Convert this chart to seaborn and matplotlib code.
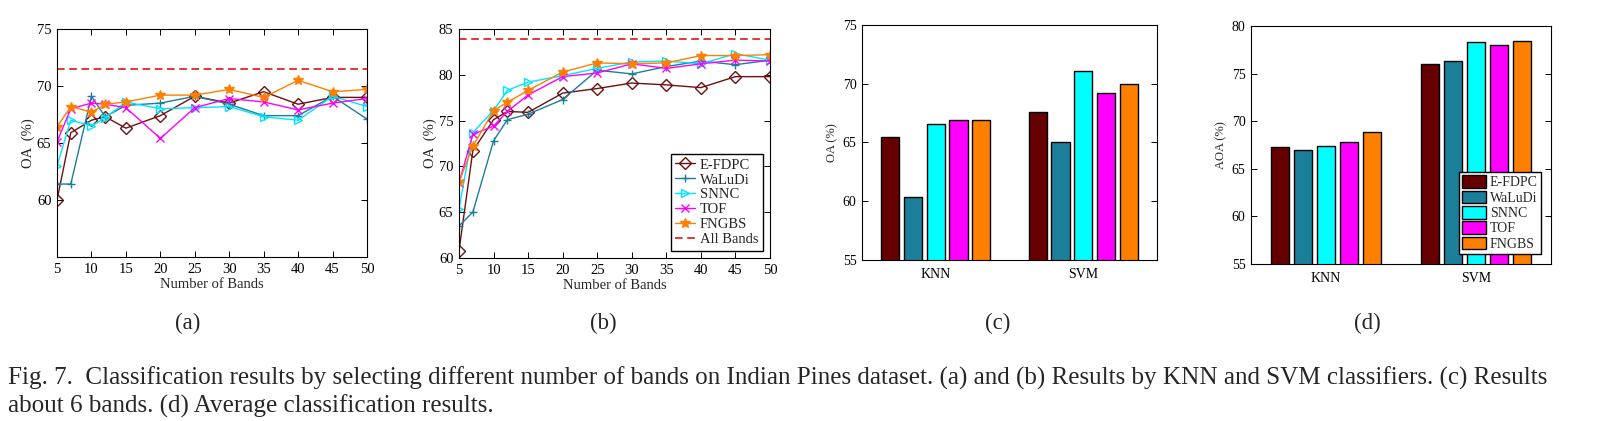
import numpy as np
import pandas as pd
import seaborn as sns
import matplotlib.pyplot as plt

# Number of selected bands (x axis of (a) and (b))
bands = [5, 7, 10, 12, 15, 20, 25, 30, 35, 40, 45, 50]
methods = ["E-FDPC", "WaLuDi", "SNNC", "TOF", "FNGBS"]

# (a) KNN, OA (%)
efdpc_knn = [60.0, 65.9, 67.0, 67.3, 66.3, 67.4, 69.1, 68.5, 69.5, 68.4, 69.0, 69.0]
waludi_knn = [61.4, 61.4, 69.1, 67.3, 68.3, 68.5, 69.1, 68.4, 67.4, 67.4, 69.1, 67.1]
snnc_knn = [63.0, 67.0, 66.5, 67.2, 68.6, 68.0, 68.1, 68.2, 67.3, 67.0, 69.1, 68.2]
tof_knn = [65.1, 68.0, 68.5, 68.4, 68.1, 65.4, 68.1, 68.9, 68.6, 67.9, 68.5, 68.9]
fngbs_knn = [66.4, 68.2, 67.7, 68.4, 68.6, 69.2, 69.2, 69.7, 69.0, 70.5, 69.5, 69.7]
all_bands_knn = 71.5

# (b) SVM, OA (%)
efdpc_svm = [60.8, 71.7, 75.1, 76.0, 75.9, 78.0, 78.5, 79.1, 78.9, 78.6, 79.8, 79.8]
waludi_svm = [63.5, 65.0, 72.8, 75.1, 75.7, 77.3, 80.5, 80.1, 80.9, 81.5, 81.1, 81.6]
snnc_svm = [65.4, 73.7, 76.1, 78.3, 79.2, 79.9, 80.7, 81.4, 81.5, 81.2, 82.3, 81.6]
tof_svm = [68.2, 73.5, 74.4, 76.0, 77.8, 79.8, 80.2, 81.2, 80.7, 81.2, 81.6, 81.5]
fngbs_svm = [68.3, 72.2, 76.1, 77.0, 78.3, 80.3, 81.3, 81.2, 81.3, 82.1, 82.1, 82.2]
all_bands_svm = 83.9

# (c) 6 bands, OA (%)
classifiers = ["KNN", "SVM"]
oa6_knn = [65.5, 60.4, 66.6, 66.9, 66.9]
oa6_svm = [67.6, 65.0, 71.1, 69.2, 70.0]

# (d) average OA (%)
aoa_knn = [67.3, 67.0, 67.4, 67.8, 68.9]
aoa_svm = [76.0, 76.3, 78.3, 78.0, 78.4]

colors = ["#660000", "#1b7f99", "#00ffff", "#ff00ff", "#ff8000"]
line_colors = ["#6e1010", "#1b7f99", "#00e5ff", "#ff00ff", "#ff8000"]
markers = ["D", "+", ">", "x", "*"]

sns.set_theme(style="white")
plt.rcParams["font.family"] = ["Liberation Serif", "DejaVu Serif"]

W, H = 1597, 421
fig = plt.figure(figsize=(W / 100, H / 100), dpi=100)


def ax_at(l, t, r, b):
    return fig.add_axes([l / W, 1 - b / H, (r - l) / W, (b - t) / H])


def style_axes(ax, ticks_x=True, size=10.5):
    for s in ax.spines.values():
        s.set_color("black")
        s.set_linewidth(0.8)
    ax.tick_params(direction="in", length=4, width=0.7, labelsize=size,
                   top=ticks_x, right=True, bottom=ticks_x, left=True,
                   colors="black", pad=4)


def line_panel(ax, series, all_val, ylim, yticks, legend=False):
    for name, vals, c, m in zip(methods, series, line_colors, markers):
        filled = m in ("*", "+", "x")
        sns.lineplot(x=bands, y=vals, ax=ax, color=c, marker=m, lw=1.0,
                     markersize=6 if m != "*" else 7,
                     markerfacecolor=c if filled else "none",
                     markeredgecolor=c, markeredgewidth=1.0, label=name)
    ax.axhline(all_val, color="#e00000", ls=(0, (5, 3)), lw=1.1, label="All Bands")
    ax.set_xlim(5, 50)
    ax.set_ylim(*ylim)
    ax.set_xticks(range(5, 51, 5))
    ax.set_yticks(yticks)
    ax.set_xlabel("Number of Bands", fontsize=10.5, labelpad=2)
    ax.set_ylabel("OA  (%)", fontsize=10.5, labelpad=1)
    style_axes(ax)
    if legend:
        ax.legend(loc="lower right", fontsize=10.5, frameon=True, fancybox=False,
                  edgecolor="black", framealpha=1, handlelength=1.4,
                  labelspacing=0.12, borderpad=0.3, handletextpad=0.3,
                  borderaxespad=0.5)
    else:
        ax.get_legend().remove()


ax_a = ax_at(57, 29, 367, 257)
line_panel(ax_a, [efdpc_knn, waludi_knn, snnc_knn, tof_knn, fngbs_knn],
           all_bands_knn, (55, 75), [60, 65, 70, 75])

ax_b = ax_at(459, 29, 770, 258)
line_panel(ax_b, [efdpc_svm, waludi_svm, snnc_svm, tof_svm, fngbs_svm],
           all_bands_svm, (60, 85), [60, 65, 70, 75, 80, 85], legend=True)


def bar_panel(ax, knn, svm, ylim, yticks, ylabel, legend=False):
    df = pd.DataFrame({
        "clf": [classifiers[0]] * len(methods) + [classifiers[1]] * len(methods),
        "method": methods + methods,
        "oa": knn + svm,
    })
    sns.barplot(data=df, x="clf", y="oa", hue="method", hue_order=methods,
                palette=colors, ax=ax, width=0.77, gap=0.2,
                edgecolor="black", linewidth=1.0, saturation=1)
    ax.set_xlim(-0.5, 1.5)
    ax.set_ylim(*ylim)
    ax.set_yticks(yticks)
    ax.set_xlabel("")
    ax.set_ylabel(ylabel, fontsize=9, labelpad=3)
    style_axes(ax, ticks_x=False, size=10)
    ax.tick_params(axis="x", pad=6)
    if legend:
        ax.legend(loc="lower right", fontsize=10, frameon=True, fancybox=False,
                  edgecolor="black", framealpha=1, handlelength=1.7,
                  handleheight=1.0, labelspacing=0.1, borderpad=0.25,
                  handletextpad=0.3, borderaxespad=0.7, title=None)
    else:
        ax.get_legend().remove()


ax_c = ax_at(862, 25, 1157, 260)
bar_panel(ax_c, oa6_knn, oa6_svm, (55, 75), [55, 60, 65, 70, 75], "OA (%)")

ax_d = ax_at(1251, 26, 1551, 264)
bar_panel(ax_d, aoa_knn, aoa_svm, (55, 80), [55, 60, 65, 70, 75, 80], "AOA (%)",
          legend=True)

# sub-figure labels
for lbl, xc in zip(["(a)", "(b)", "(c)", "(d)"], [188, 603, 998, 1367]):
    fig.text(xc / W, 1 - 323 / H, lbl, ha="center", va="center", fontsize=16.5)

# caption, stretched to the column width
line1 = ("Fig. 7.  Classification results by selecting different number of bands on "
         "Indian Pines dataset. (a) and (b) Results by KNN and SVM classifiers. (c) Results")
line2 = "about 6 bands. (d) Average classification results."
t1 = fig.text(8 / W, 1 - 378 / H, line1, ha="left", va="center", fontsize=16.5)
t2 = fig.text(8 / W, 1 - 406 / H, line2, ha="left", va="center", fontsize=16.5)
r = fig.canvas.get_renderer()
w = t1.get_window_extent(r).width
fs = 16.5 * 1544 / w
t1.set_fontsize(fs)
t2.set_fontsize(fs)

fig.savefig("out.png", dpi=100)
